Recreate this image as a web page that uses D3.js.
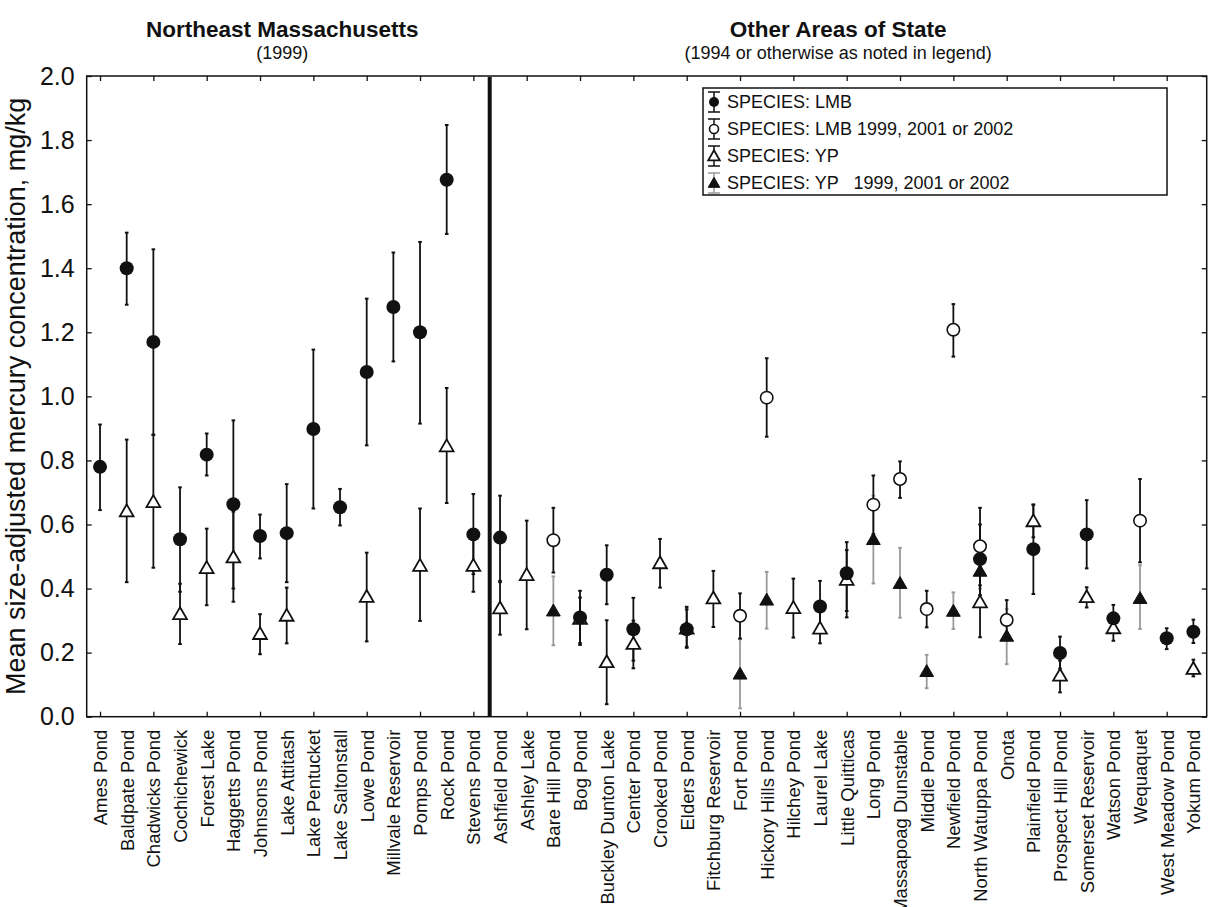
<!DOCTYPE html>
<html>
<head>
<meta charset="utf-8">
<script src="https://cdn.jsdelivr.net/npm/d3@7"></script>
<style>
  body { margin: 0; background: #fff; }
  svg { font-family: "Liberation Sans", Arial, Helvetica, sans-serif; }
</style>
</head>
<body>
<svg id="chart" width="1209" height="907"></svg>
<script>
// Lakes, in plotting order. First 15 are the Northeast Massachusetts group.
const lakes = [
  "Ames Pond", "Baldpate Pond", "Chadwicks Pond", "Cochichewick", "Forest Lake",
  "Haggetts Pond", "Johnsons Pond", "Lake Attitash", "Lake Pentucket", "Lake Saltonstall",
  "Lowe Pond", "Millvale Reservoir", "Pomps Pond", "Rock Pond", "Stevens Pond",
  "Ashfield Pond", "Ashley Lake", "Bare Hill Pond", "Bog Pond", "Buckley Dunton Lake",
  "Center Pond", "Crooked Pond", "Elders Pond", "Fitchburg Reservoir", "Fort Pond",
  "Hickory Hills Pond", "Hilchey Pond", "Laurel Lake", "Little Quitticas", "Long Pond",
  "Massapoag Dunstable", "Middle Pond", "Newfield Pond", "North Watuppa Pond", "Onota",
  "Plainfield Pond", "Prospect Hill Pond", "Somerset Reservoir", "Watson Pond", "Wequaquet",
  "West Meadow Pond", "Yokum Pond"
];
const northeastCount = 15;

// [lake, mean, lower, upper]  (mg/kg)
const lmb = [
  ["Ames Pond", 0.78, 0.645, 0.912],
  ["Baldpate Pond", 1.40, 1.286, 1.511],
  ["Chadwicks Pond", 1.17, 0.880, 1.459],
  ["Cochichewick", 0.554, 0.39, 0.716],
  ["Forest Lake", 0.818, 0.753, 0.884],
  ["Haggetts Pond", 0.663, 0.40, 0.925],
  ["Johnsons Pond", 0.564, 0.494, 0.631],
  ["Lake Attitash", 0.573, 0.42, 0.726],
  ["Lake Pentucket", 0.898, 0.65, 1.146],
  ["Lake Saltonstall", 0.654, 0.597, 0.711],
  ["Lowe Pond", 1.076, 0.847, 1.305],
  ["Millvale Reservoir", 1.279, 1.109, 1.449],
  ["Pomps Pond", 1.20, 0.915, 1.482],
  ["Rock Pond", 1.676, 1.507, 1.847],
  ["Stevens Pond", 0.569, 0.445, 0.695],
  ["Ashfield Pond", 0.559, 0.424, 0.69],
  ["Bog Pond", 0.31, 0.23, 0.393],
  ["Buckley Dunton Lake", 0.443, 0.351, 0.535],
  ["Center Pond", 0.273, 0.175, 0.371],
  ["Elders Pond", 0.273, 0.215, 0.343],
  ["Laurel Lake", 0.344, 0.265, 0.424],
  ["Little Quitticas", 0.448, 0.31, 0.545],
  ["North Watuppa Pond", 0.492, 0.38, 0.60],
  ["Plainfield Pond", 0.523, 0.383, 0.662],
  ["Prospect Hill Pond", 0.199, 0.15, 0.25],
  ["Somerset Reservoir", 0.569, 0.463, 0.676],
  ["Watson Pond", 0.307, 0.265, 0.349],
  ["West Meadow Pond", 0.245, 0.211, 0.276],
  ["Yokum Pond", 0.265, 0.23, 0.303]
];

// LMB sampled 1999, 2001 or 2002
const lmbLater = [
  ["Bare Hill Pond", 0.551, 0.45, 0.652],
  ["Fort Pond", 0.315, 0.244, 0.385],
  ["Hickory Hills Pond", 0.996, 0.874, 1.119],
  ["Long Pond", 0.662, 0.57, 0.753],
  ["Massapoag Dunstable", 0.742, 0.683, 0.797],
  ["Middle Pond", 0.336, 0.279, 0.393],
  ["Newfield Pond", 1.208, 1.124, 1.288],
  ["North Watuppa Pond", 0.532, 0.41, 0.652],
  ["Onota", 0.302, 0.24, 0.364],
  ["Wequaquet", 0.612, 0.482, 0.742]
];

const yp = [
  ["Baldpate Pond", 0.641, 0.42, 0.865],
  ["Chadwicks Pond", 0.67, 0.465, 0.88],
  ["Cochichewick", 0.32, 0.227, 0.415],
  ["Forest Lake", 0.464, 0.348, 0.587],
  ["Haggetts Pond", 0.497, 0.359, 0.64],
  ["Johnsons Pond", 0.258, 0.195, 0.32],
  ["Lake Attitash", 0.315, 0.229, 0.403],
  ["Lowe Pond", 0.374, 0.235, 0.512],
  ["Pomps Pond", 0.471, 0.299, 0.65],
  ["Rock Pond", 0.844, 0.667, 1.026],
  ["Stevens Pond", 0.471, 0.39, 0.552],
  ["Ashfield Pond", 0.338, 0.256, 0.42],
  ["Ashley Lake", 0.442, 0.273, 0.612],
  ["Bog Pond", 0.305, 0.224, 0.372],
  ["Buckley Dunton Lake", 0.17, 0.039, 0.301],
  ["Center Pond", 0.227, 0.151, 0.30],
  ["Crooked Pond", 0.479, 0.403, 0.555],
  ["Elders Pond", 0.275, 0.218, 0.335],
  ["Fitchburg Reservoir", 0.369, 0.28, 0.455],
  ["Hilchey Pond", 0.339, 0.247, 0.431],
  ["Laurel Lake", 0.275, 0.229, 0.33],
  ["Little Quitticas", 0.427, 0.33, 0.52],
  ["North Watuppa Pond", 0.357, 0.248, 0.466],
  ["Plainfield Pond", 0.61, 0.56, 0.662],
  ["Prospect Hill Pond", 0.128, 0.076, 0.175],
  ["Somerset Reservoir", 0.373, 0.341, 0.404],
  ["Watson Pond", 0.276, 0.237, 0.315],
  ["Yokum Pond", 0.149, 0.126, 0.178]
];

// YP sampled 1999, 2001 or 2002
const ypLater = [
  ["Bare Hill Pond", 0.33, 0.223, 0.438],
  ["Fort Pond", 0.133, 0.026, 0.242],
  ["Hickory Hills Pond", 0.364, 0.275, 0.452],
  ["Long Pond", 0.553, 0.416, 0.69],
  ["Massapoag Dunstable", 0.416, 0.309, 0.527],
  ["Middle Pond", 0.141, 0.089, 0.193],
  ["Newfield Pond", 0.329, 0.274, 0.388],
  ["North Watuppa Pond", 0.454, 0.40, 0.51],
  ["Onota", 0.251, 0.164, 0.336],
  ["Wequaquet", 0.369, 0.274, 0.473]
];

const yTicks = [0, 0.2, 0.4, 0.6, 0.8, 1.0, 1.2, 1.4, 1.6, 1.8, 2.0];

const legendItems = [
  { label: "SPECIES: LMB", kind: "lmb" },
  { label: "SPECIES: LMB 1999, 2001 or 2002", kind: "lmbLater" },
  { label: "SPECIES: YP", kind: "yp" },
  { label: "SPECIES: YP   1999, 2001 or 2002", kind: "ypLater" }
];

// ---- layout ----
const plot = { left: 86.7, right: 1206.7, top: 76, bottom: 716.7 };
const INK = '#111';
const GREY = '#9a9a9a';
const FONT = '"Liberation Sans", Arial, sans-serif';

const svg = d3.select('#chart');

const x = d3.scalePoint().domain(lakes).range([plot.left, plot.right]).padding(0.5);
const y = d3.scaleLinear().domain([0, 2]).range([plot.bottom, plot.top]);

// Frame
svg.append('rect')
  .attr('x', plot.left).attr('y', plot.top)
  .attr('width', plot.right - plot.left).attr('height', plot.bottom - plot.top)
  .attr('fill', 'none').attr('stroke', INK).attr('stroke-width', 1.5);

// Axes: ticks point inward on every side, labels only left and bottom.
const everyOther = lakes.filter((d, i) => i % 2 === 0);

function styleAxis(sel) {
  sel.select('.domain').remove();
  sel.selectAll('.tick line').attr('stroke', INK).attr('stroke-width', 1.3);
}

svg.append('g').attr('transform', `translate(0,${plot.bottom})`)
  .call(d3.axisBottom(x).tickValues(everyOther).tickSize(-5).tickFormat(''))
  .call(styleAxis);
svg.append('g').attr('transform', `translate(0,${plot.top})`)
  .call(d3.axisTop(x).tickValues(everyOther).tickSize(-5).tickFormat(''))
  .call(styleAxis);
svg.append('g').attr('transform', `translate(${plot.right},0)`)
  .call(d3.axisRight(y).tickValues(yTicks).tickSize(-5).tickFormat(''))
  .call(styleAxis);

const yAxis = svg.append('g').attr('transform', `translate(${plot.left},0)`)
  .call(d3.axisLeft(y).tickValues(yTicks).tickSize(-5).tickPadding(12).tickFormat(d3.format('.1f')))
  .call(styleAxis);
yAxis.selectAll('text').attr('font-size', 25).attr('fill', INK).attr('font-family', FONT);

// Category labels (every lake), rotated
const xLabels = svg.append('g').attr('transform', `translate(0,${plot.bottom})`)
  .call(d3.axisBottom(x).tickSize(0).tickPadding(0))
  .call(g => g.select('.domain').remove());
xLabels.selectAll('text')
  .attr('font-size', 18.5).attr('fill', INK).attr('font-family', FONT)
  .attr('text-anchor', 'end')
  .attr('dy', null)
  .attr('transform', 'translate(0,13) rotate(-90)')
  .attr('x', 0).attr('y', 0)
  .attr('dominant-baseline', 'central');

// Divider between regions
const divX = (x(lakes[northeastCount - 1]) + x(lakes[northeastCount])) / 2 + 3;
svg.append('line')
  .attr('x1', divX).attr('x2', divX)
  .attr('y1', plot.top + 1).attr('y2', plot.bottom)
  .attr('stroke', INK).attr('stroke-width', 4);

// ---- error bars and markers ----
function errorBars(data, colour) {
  const g = svg.append('g');
  g.selectAll('line.bar').data(data).enter().append('line')
    .attr('x1', d => x(d[0])).attr('x2', d => x(d[0]))
    .attr('y1', d => y(d[2])).attr('y2', d => y(d[3]))
    .attr('stroke', colour).attr('stroke-width', 1.8);
  ['lo', 'hi'].forEach((end, k) => {
    g.selectAll('line.cap' + end).data(data).enter().append('line')
      .attr('x1', d => x(d[0]) - 1.8).attr('x2', d => x(d[0]) + 1.8)
      .attr('y1', d => y(d[2 + k])).attr('y2', d => y(d[2 + k]))
      .attr('stroke', colour).attr('stroke-width', 2);
  });
}

const triangle = d3.symbol().type(d3.symbolTriangle).size(82);
const triangleSmall = d3.symbol().type(d3.symbolTriangle).size(58);

function drawMarker(sel, kind, small) {
  if (kind === 'lmb') {
    sel.append('circle').attr('r', small ? 5 : 7).attr('fill', INK);
  } else if (kind === 'lmbLater') {
    sel.append('circle').attr('r', small ? 4.5 : 6.2).attr('fill', '#fff')
      .attr('stroke', INK).attr('stroke-width', 1.6);
  } else if (kind === 'yp') {
    sel.append('path').attr('d', small ? triangleSmall : triangle)
      .attr('transform', 'translate(0,1)')
      .attr('fill', '#fff').attr('stroke', INK).attr('stroke-width', 1.8);
  } else {
    sel.append('path').attr('d', small ? triangleSmall : triangle)
      .attr('transform', 'translate(0,1)')
      .attr('fill', INK).attr('stroke', INK).attr('stroke-width', 1);
  }
}

function markers(data, kind) {
  svg.append('g').selectAll('g').data(data).enter().append('g')
    .attr('transform', d => `translate(${x(d[0])},${y(d[1])})`)
    .each(function () { drawMarker(d3.select(this), kind, false); });
}

errorBars(ypLater, GREY);
errorBars(yp, INK);
errorBars(lmbLater, INK);
errorBars(lmb, INK);
markers(ypLater, 'ypLater');
markers(yp, 'yp');
markers(lmbLater, 'lmbLater');
markers(lmb, 'lmb');

// ---- legend ----
const legend = svg.append('g').attr('transform', 'translate(703,88)');
legend.append('rect').attr('width', 464).attr('height', 107)
  .attr('fill', '#fff').attr('stroke', INK).attr('stroke-width', 1.5);
legendItems.forEach((item, i) => {
  const row = legend.append('g').attr('transform', `translate(11,${14 + i * 27})`);
  const colour = item.kind === 'ypLater' ? GREY : INK;
  row.append('line').attr('x1', 0).attr('x2', 0).attr('y1', -10).attr('y2', 10)
    .attr('stroke', colour).attr('stroke-width', 1.5);
  [-10, 10].forEach(cy => row.append('line')
    .attr('x1', -6).attr('x2', 6).attr('y1', cy).attr('y2', cy)
    .attr('stroke', colour).attr('stroke-width', 1.5));
  drawMarker(row, item.kind, true);
  row.append('text').attr('x', 13).attr('y', 0)
    .attr('dominant-baseline', 'central')
    .attr('font-size', 18).attr('fill', INK)
    .style('white-space', 'pre')
    .text(item.label);
});

// ---- titles ----
const neMid = (plot.left + divX) / 2 - 6;
const otherMid = (divX + plot.right) / 2 - 10;
svg.append('text').attr('x', neMid).attr('y', 37).attr('text-anchor', 'middle')
  .attr('font-size', 22.5).attr('font-weight', 'bold').attr('fill', INK)
  .text('Northeast Massachusetts');
svg.append('text').attr('x', neMid).attr('y', 59).attr('text-anchor', 'middle')
  .attr('font-size', 18).attr('fill', INK).text('(1999)');
svg.append('text').attr('x', otherMid).attr('y', 37).attr('text-anchor', 'middle')
  .attr('font-size', 22.5).attr('font-weight', 'bold').attr('fill', INK)
  .text('Other Areas of State');
svg.append('text').attr('x', otherMid).attr('y', 59).attr('text-anchor', 'middle')
  .attr('font-size', 18).attr('fill', INK).text('(1994 or otherwise as noted in legend)');

// y axis title
svg.append('text')
  .attr('transform', `translate(25,${(plot.top + plot.bottom) / 2}) rotate(-90)`)
  .attr('text-anchor', 'middle')
  .attr('font-size', 27).attr('fill', INK)
  .text('Mean size-adjusted mercury concentration, mg/kg');
</script>
</body>
</html>
